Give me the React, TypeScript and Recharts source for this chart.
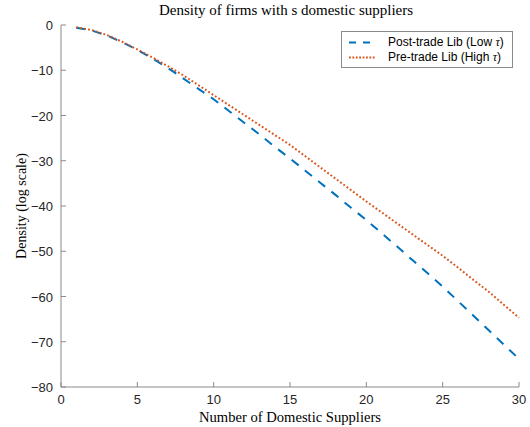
import React from "react";
import { LineChart, Line, XAxis, YAxis } from "recharts";

// number of domestic suppliers
const suppliers = [
  1, 2, 3, 4, 5, 6, 7, 8, 9, 10, 11, 12, 13, 14, 15, 16, 17, 18, 19, 20, 21,
  22, 23, 24, 25, 26, 27, 28, 29, 30,
];

// log density, post-trade liberalisation (low tau)
const postTrade = [
  -0.6, -1.2, -2.3, -3.8, -5.5, -7.4, -9.5, -11.8, -14.1, -16.4, -19.0, -21.6,
  -24.2, -26.9, -29.5, -32.2, -34.9, -37.6, -40.4, -43.1, -46.0, -48.9, -51.9,
  -54.8, -57.8, -61.0, -64.2, -67.4, -70.6, -73.8,
];

// log density, pre-trade liberalisation (high tau)
const preTrade = [
  -0.5, -1.1, -2.2, -3.7, -5.4, -7.2, -9.1, -11.1, -13.3, -15.5, -17.7, -19.9,
  -22.1, -24.3, -26.5, -29.0, -31.5, -34.0, -36.5, -39.0, -41.4, -43.8, -46.2,
  -48.6, -51.0, -53.6, -56.3, -58.9, -61.8, -64.7,
];

const xTicks = [0, 5, 10, 15, 20, 25, 30];
const yTicks = [0, -10, -20, -30, -40, -50, -60, -70, -80];

const seriesNames = ["Post-trade Lib (Low ", "Pre-trade Lib (High "];

const data = suppliers.map((s, i) => ({
  s,
  post: postTrade[i],
  pre: preTrade[i],
}));

const BLUE = "#0072BD";
const ORANGE = "#D95319";
const AXIS = "#8a8a8a";
const TXT = "#262626";
const SANS = "'Liberation Sans', Arial, Helvetica, sans-serif";
const SERIF = "'Liberation Serif', 'Times New Roman', serif";

const fmt = (v: number) => (v < 0 ? "\u2212" + Math.abs(v) : String(v));

function XTick(props: any) {
  const { x, y, payload } = props;
  return (
    <g>
      <line x1={x} x2={x} y1={y} y2={y - 5} stroke={AXIS} />
      <text x={x} y={y + 17} textAnchor="middle" fontSize={13} fontFamily={SANS} fill={TXT}>
        {fmt(payload.value)}
      </text>
    </g>
  );
}

function YTick(props: any) {
  const { x, y, payload } = props;
  return (
    <g>
      <line x1={x} x2={x + 5} y1={y} y2={y} stroke={AXIS} />
      <text x={x - 8} y={y + 5} textAnchor="end" fontSize={13} fontFamily={SANS} fill={TXT}>
        {fmt(payload.value)}
      </text>
    </g>
  );
}

function LegendBox() {
  const rows = [
    { name: seriesNames[0], color: BLUE, dash: "7 7" },
    { name: seriesNames[1], color: ORANGE, dash: "1.8 1.6" },
  ];
  return (
    <div
      style={{
        position: "absolute",
        left: 341,
        top: 31,
        width: 172,
        height: 37,
        border: "1px solid #8a8a8a",
        background: "#fff",
        boxSizing: "border-box",
      }}
    >
      {rows.map((r, i) => (
        <div
          key={i}
          style={{
            position: "absolute",
            left: 0,
            top: 3 + i * 15,
            height: 15,
            display: "flex",
            alignItems: "center",
            fontFamily: SANS,
            fontSize: 12,
            color: "#000",
            whiteSpace: "nowrap",
          }}
        >
          <svg width={46} height={15}>
            <line x1={7} x2={33} y1={7.5} y2={7.5} stroke={r.color} strokeWidth={2} strokeDasharray={r.dash} />
          </svg>
          <span>
            {r.name}
            <i style={{ fontFamily: SERIF }}>τ</i>)
          </span>
        </div>
      ))}
    </div>
  );
}

export default function App() {
  return (
    <div style={{ position: "absolute", left: 0, top: 0, width: 530, height: 427, background: "#fff" }}>
      <div
        style={{
          position: "absolute",
          left: 57,
          width: 458,
          top: 2,
          textAlign: "center",
          fontFamily: SERIF,
          fontSize: 15,
          color: "#000",
        }}
      >
        Density of firms with s domestic suppliers
      </div>
      <LineChart
        width={530}
        height={427}
        data={data}
        margin={{ top: 25, right: 11, left: 0, bottom: 0 }}
      >
        <XAxis
          dataKey="s"
          type="number"
          domain={[0, 30]}
          ticks={xTicks}
          interval={0}
          height={40}
          stroke={AXIS}
          tickLine={false}
          tickSize={0}
          tickMargin={0}
          tick={<XTick />}
          label={{
            value: "Number of Domestic Suppliers",
            position: "insideBottom",
            offset: 5,
            style: { fontFamily: SERIF, fontSize: 14.6, fill: "#000" },
          }}
        />
        <YAxis
          type="number"
          domain={[-80, 0]}
          ticks={yTicks}
          interval={0}
          width={61}
          stroke={AXIS}
          tickLine={false}
          tickSize={0}
          tickMargin={0}
          tick={<YTick />}
          label={{
            value: "Density (log scale)",
            angle: -90,
            position: "insideLeft",
            offset: 21,
            style: { fontFamily: SERIF, fontSize: 14, fill: "#000", textAnchor: "middle" },
          }}
        />
        <Line
          dataKey="post"
          type="linear"
          stroke={BLUE}
          strokeWidth={2}
          strokeDasharray="9 8"
          dot={false}
          isAnimationActive={false}
        />
        <Line
          dataKey="pre"
          type="linear"
          stroke={ORANGE}
          strokeWidth={2}
          strokeDasharray="1.8 2.2"
          dot={false}
          isAnimationActive={false}
        />
      </LineChart>
      <LegendBox />
    </div>
  );
}
